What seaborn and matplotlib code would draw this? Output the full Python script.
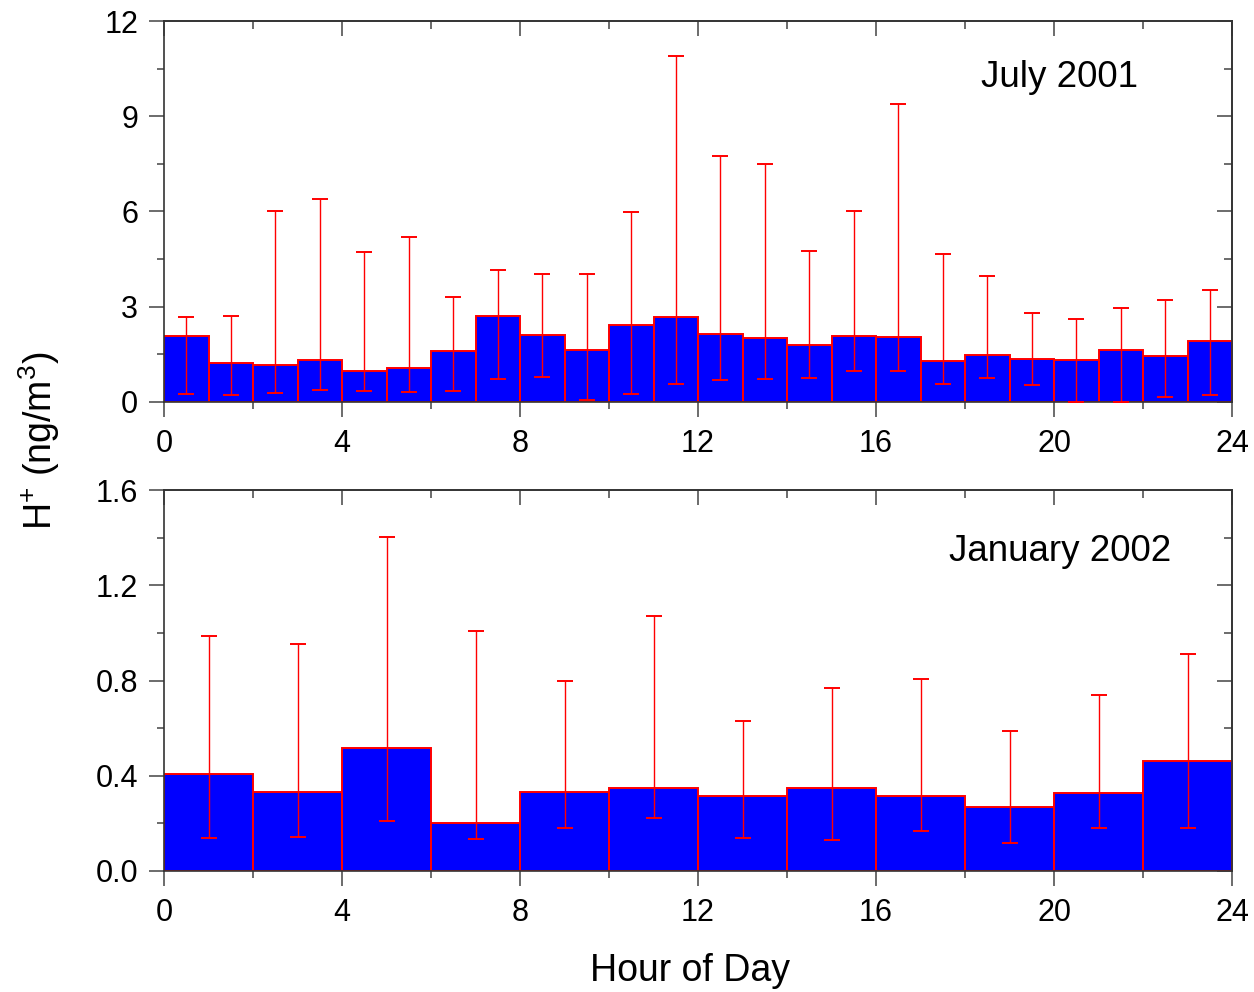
import numpy as np
import pandas as pd
import matplotlib
matplotlib.use("Agg")
import matplotlib.pyplot as plt
import seaborn as sns

# ---- data ----
july_hours = [h + 0.5 for h in range(24)]
july_mean = [2.08, 1.24, 1.17, 1.33, 0.98, 1.08, 1.59, 2.71, 2.11, 1.64, 2.42, 2.67,
             2.15, 2.01, 1.78, 2.08, 2.05, 1.29, 1.49, 1.35, 1.33, 1.64, 1.45, 1.91]
july_upper = [2.67, 2.71, 6.00, 6.38, 4.71, 5.21, 3.31, 4.16, 4.03, 4.03, 5.99, 10.90,
              7.75, 7.49, 4.75, 6.03, 9.38, 4.67, 3.97, 2.80, 2.60, 2.96, 3.21, 3.52]
july_lower = [0.25, 0.23, 0.27, 0.39, 0.33, 0.31, 0.35, 0.73, 0.78, 0.07, 0.25, 0.55,
              0.70, 0.72, 0.76, 0.97, 0.98, 0.58, 0.76, 0.53, 0.00, 0.00, 0.15, 0.22]

jan_hours = [1, 3, 5, 7, 9, 11, 13, 15, 17, 19, 21, 23]
jan_mean = [0.408, 0.330, 0.516, 0.200, 0.330, 0.348, 0.317, 0.347, 0.313, 0.270, 0.328, 0.464]
jan_upper = [0.988, 0.953, 1.402, 1.009, 0.798, 1.073, 0.630, 0.767, 0.808, 0.590, 0.739, 0.911]
jan_lower = [0.138, 0.143, 0.210, 0.133, 0.182, 0.222, 0.138, 0.129, 0.166, 0.119, 0.179, 0.180]

x_ticks = [0, 4, 8, 12, 16, 20, 24]
july_yticks = [0, 3, 6, 9, 12]
jan_yticks = [0.0, 0.4, 0.8, 1.2, 1.6]

sns.set_style("ticks")
plt.rcParams["font.family"] = ["Liberation Sans", "DejaVu Sans"]
plt.rcParams["text.color"] = "black"
plt.rcParams["mathtext.fontset"] = "custom"
plt.rcParams["mathtext.rm"] = "Liberation Sans"
plt.rcParams["mathtext.it"] = "Liberation Sans:italic"

fig = plt.figure(figsize=(12.54, 9.92), dpi=100)
ax1 = fig.add_axes([0.1308, 0.5948, 0.8517, 0.3840])
ax2 = fig.add_axes([0.1308, 0.1220, 0.8517, 0.3840])

spine_col = "#333333"
tick_col = "#444444"


def draw(ax, hours, mean, upper, lower, yticks, ymax, label, fmt, label_xy):
    df = pd.DataFrame({"hour": hours, "val": mean})
    sns.barplot(data=df, x="hour", y="val", native_scale=True, width=1.0,
                color="#0000FF", edgecolor="#FF0000", linewidth=1.4,
                saturation=1, errorbar=None, ax=ax, zorder=2)
    m = np.array(mean)
    yerr = np.vstack([m - np.array(lower), np.array(upper) - m])
    ax.errorbar(hours, mean, yerr=yerr, fmt="none", ecolor="#FF0000",
                elinewidth=1.0, capsize=5.8, capthick=1.4, zorder=3)
    ax.set_xlim(0, 24)
    ax.set_ylim(0, ymax)
    ax.set_xticks(x_ticks)
    ax.set_xticks(list(range(2, 24, 4)), minor=True)
    ax.set_yticks(yticks)
    ystep = yticks[1] - yticks[0]
    ax.set_yticks([yticks[0] + ystep * (i + 0.5) for i in range(len(yticks) - 1)], minor=True)
    ax.set_yticklabels([fmt.format(v) for v in yticks])
    ax.set_xticklabels([str(v) for v in x_ticks])
    ax.set_xlabel("")
    ax.set_ylabel("")
    for s in ax.spines.values():
        s.set_color(spine_col)
        s.set_linewidth(1.2)
        s.set_visible(True)
    ax.tick_params(which="both", direction="out", colors=tick_col, labelcolor="black",
                   top=False, right=False, width=1.1)
    ax.tick_params(which="major", length=10.5, labelsize=22)
    ax.tick_params(axis="x", which="major", pad=9)
    ax.tick_params(axis="y", which="major", pad=8)
    ax.tick_params(which="minor", length=5)
    secx = ax.secondary_xaxis("top")
    secx.set_xticks(x_ticks)
    secx.set_xticks(list(range(2, 24, 4)), minor=True)
    secx.tick_params(which="both", direction="in", colors=tick_col, labeltop=False, width=1.1)
    secx.tick_params(which="major", length=11)
    secx.tick_params(which="minor", length=6)
    secy = ax.secondary_yaxis("right")
    secy.set_yticks(yticks)
    secy.set_yticks([yticks[0] + ystep * (i + 0.5) for i in range(len(yticks) - 1)], minor=True)
    secy.tick_params(which="both", direction="in", colors=tick_col, labelright=False, width=1.1)
    secy.tick_params(which="major", length=11)
    secy.tick_params(which="minor", length=6)
    for sa in (secx, secy):
        for s in sa.spines.values():
            s.set_color(spine_col)
            s.set_linewidth(1.2)
    ax.text(label_xy[0], label_xy[1], label, transform=ax.transAxes,
            fontsize=26.5, ha="center", va="center", color="black")


draw(ax1, july_hours, july_mean, july_upper, july_lower, july_yticks, 12,
     "July 2001", "{:g}", (0.838, 0.852))
draw(ax2, jan_hours, jan_mean, jan_upper, jan_lower, jan_yticks, 1.6,
     "January 2002", "{:.1f}", (0.839, 0.838))

fig.text(0.5505, 0.021, "Hour of Day", fontsize=27, ha="center", va="center",
         color="black")
fig.text(0.031, 0.556, r"H$^{+}$ (ng/m$^{3}$)", fontsize=27, ha="center", va="center",
         rotation=90, color="black")

fig.savefig("out.png", dpi=100)
